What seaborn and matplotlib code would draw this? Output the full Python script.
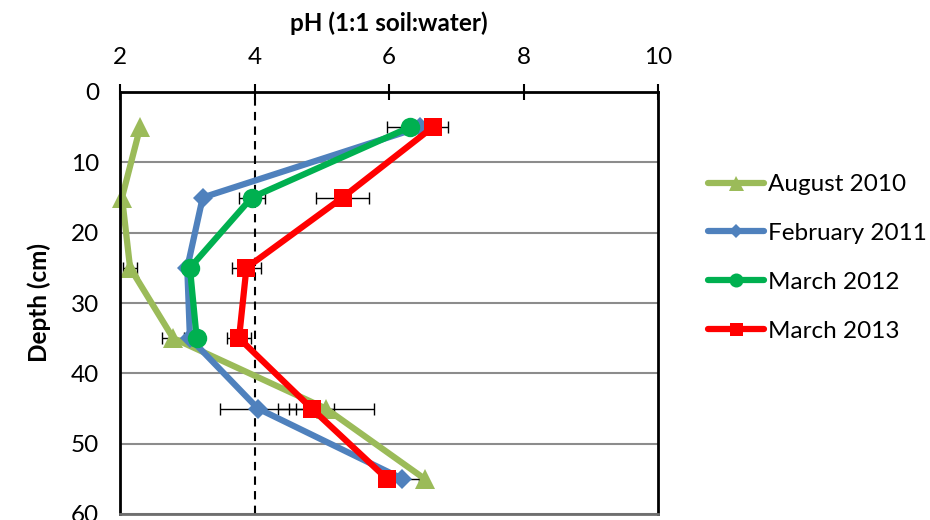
import matplotlib
matplotlib.use("Agg")
import matplotlib.pyplot as plt
import numpy as np
import pandas as pd
import seaborn as sns
from matplotlib.lines import Line2D

# Soil sampling depths (cm)
depth_cm = [5, 15, 25, 35, 45, 55]

# pH profiles for each survey, with ± error (pH units, 0 = no bar drawn)
ph_aug_2010 = [2.30, 2.03, 2.15, 2.79, 5.06, 6.53]
err_aug_2010 = [0.0, 0.0, 0.10, 0.16, 0.71, 0.0]

ph_feb_2011 = [6.46, 3.23, 3.00, 3.04, 4.05, 6.20]
err_feb_2011 = [0.0, 0.0, 0.0, 0.0, 0.56, 0.24]

ph_mar_2012 = [6.31, 3.96, 3.04, 3.14]
err_mar_2012 = [0.34, 0.19, 0.0, 0.0]

ph_mar_2013 = [6.65, 5.31, 3.88, 3.77, 4.85, 5.97]
err_mar_2013 = [0.22, 0.39, 0.21, 0.18, 0.33, 0.0]

survey_labels = ["August 2010", "February 2011", "March 2012", "March 2013"]
x_ticks = [2, 4, 6, 8, 10]
y_ticks = [0, 10, 20, 30, 40, 50, 60]

sns.set_theme(style="white")
plt.rcParams["font.family"] = ["Lato", "DejaVu Sans"]

series = [
    (survey_labels[0], ph_aug_2010, err_aug_2010, "#9BBB59", "^", 15),
    (survey_labels[1], ph_feb_2011, err_feb_2011, "#4F81BD", "D", 10),
    (survey_labels[2], ph_mar_2012, err_mar_2012, "#00B050", "o", 14),
    (survey_labels[3], ph_mar_2013, err_mar_2013, "#FF0000", "s", 13),
]

fig = plt.figure(figsize=(9.3, 5.2), dpi=100)
ax = fig.add_axes([120 / 930, 6 / 520, 538 / 930, 422 / 520])

# horizontal depth gridlines and pH 4 reference line
for d in y_ticks[1:]:
    ax.axhline(d, color="#8C8C8C", lw=1.5, zorder=0.5)
ax.axvline(4, color="black", lw=1.5, ls=(0, (4, 3)), zorder=0.6)

handles = []
for name, ph, err, color, marker, ms in series:
    df = pd.DataFrame({"pH": ph, "depth": depth_cm[: len(ph)], "err": err})
    sub = df[df["err"] > 0]
    ax.errorbar(sub["pH"], sub["depth"], xerr=sub["err"], fmt="none",
                ecolor="black", elinewidth=1.0, capsize=4.5, capthick=1.0,
                zorder=1.5)
    sns.lineplot(data=df, x="pH", y="depth", sort=False, estimator=None,
                 color=color, lw=4.5, marker=marker, markersize=ms,
                 markeredgewidth=0, ax=ax, zorder=2, clip_on=False)
    handles.append(Line2D([], [], color=color, lw=4.5, marker=marker,
                          markersize=ms * 0.72, markeredgewidth=0,
                          label=name))

ax.set_xlim(2, 10)
ax.set_ylim(60, 0)
ax.set_xticks(x_ticks)
ax.set_yticks(y_ticks)
ax.xaxis.tick_top()
ax.xaxis.set_label_position("top")

for side in ["top", "left", "right"]:
    ax.spines[side].set_color("black")
    ax.spines[side].set_linewidth(2)
ax.spines["bottom"].set_color("#6E6E6E")
ax.spines["bottom"].set_linewidth(2)

ax.tick_params(axis="x", direction="inout", length=12, width=1.5,
               color="black", labelsize=17.5, pad=11, labelcolor="black")
ax.tick_params(axis="y", direction="inout", length=12, width=1.5,
               color="black", labelsize=17.5, pad=9, labelcolor="black")

ax.set_xlabel("pH (1:1 soil:water)", fontsize=17.5, fontweight="bold",
              labelpad=12, color="black")
ax.set_ylabel("Depth (cm)", fontsize=17.5, fontweight="bold",
              labelpad=14, color="black")

leg = ax.legend(handles=handles, loc="upper left", frameon=False,
                bbox_to_anchor=(708 / 930, 1 - 174 / 520),
                bbox_transform=fig.transFigure, fontsize=17.5,
                handlelength=2.3, handletextpad=0.15, labelspacing=1.15,
                borderpad=0, borderaxespad=0)
for t in leg.get_texts():
    t.set_color("black")

fig.savefig("out.png", dpi=100)
